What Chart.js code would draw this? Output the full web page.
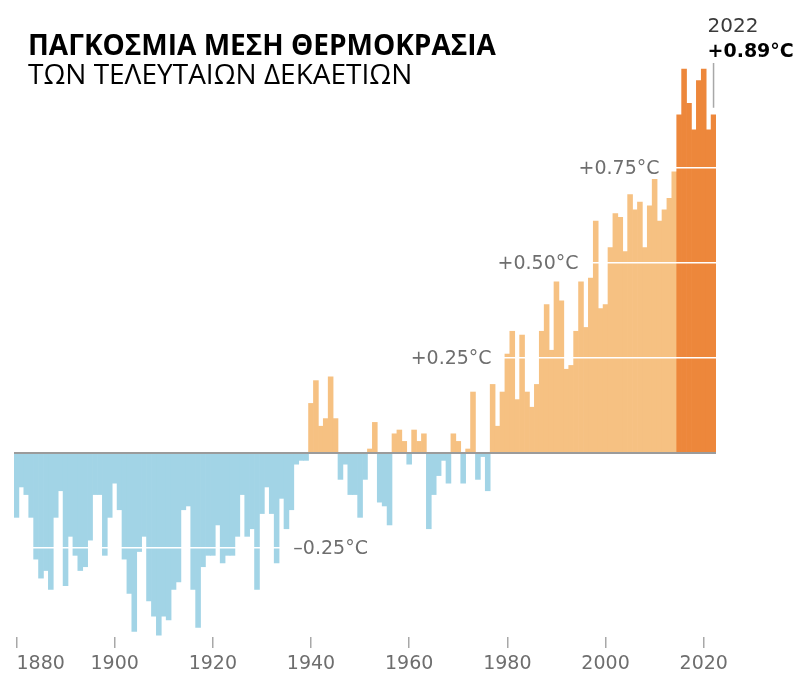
<!DOCTYPE html>
<html>
<head>
<meta charset="utf-8">
<script src="https://cdn.jsdelivr.net/npm/chart.js@4.4.0/dist/chart.umd.min.js"></script>
<style>
    html, body { margin: 0; padding: 0; background: #fff; }
    canvas { display: block; }
</style>
</head>
<body>
<canvas id="tempChart" width="798" height="677"></canvas>
<script>
// Global mean temperature anomaly, °C, one value per year from 1880 to 2022
const firstYear = 1880;
const anomalies = [
    -0.17, -0.09, -0.11, -0.17, -0.28, -0.33, -0.31, -0.36, -0.17, -0.10, // 1880s
    -0.35, -0.22, -0.27, -0.31, -0.30, -0.23, -0.11, -0.11, -0.27, -0.17, // 1890s
    -0.08, -0.15, -0.28, -0.37, -0.47, -0.26, -0.22, -0.39, -0.43, -0.48, // 1900s
    -0.43, -0.44, -0.36, -0.34, -0.15, -0.14, -0.36, -0.46, -0.30, -0.27, // 1910s
    -0.27, -0.19, -0.29, -0.27, -0.27, -0.22, -0.11, -0.22, -0.20, -0.36, // 1920s
    -0.16, -0.09, -0.16, -0.29, -0.12, -0.20, -0.15, -0.03, -0.02, -0.02, // 1930s
    0.13, 0.19, 0.07, 0.09, 0.20, 0.09, -0.07, -0.03, -0.11, -0.11,       // 1940s
    -0.17, -0.07, 0.01, 0.08, -0.13, -0.14, -0.19, 0.05, 0.06, 0.03,      // 1950s
    -0.03, 0.06, 0.03, 0.05, -0.20, -0.11, -0.06, -0.02, -0.08, 0.05,     // 1960s
    0.03, -0.08, 0.01, 0.16, -0.07, -0.01, -0.10, 0.18, 0.07, 0.16,       // 1970s
    0.26, 0.32, 0.14, 0.31, 0.16, 0.12, 0.18, 0.32, 0.39, 0.27,           // 1980s
    0.45, 0.40, 0.22, 0.23, 0.32, 0.45, 0.33, 0.46, 0.61, 0.38,           // 1990s
    0.39, 0.54, 0.63, 0.62, 0.53, 0.68, 0.64, 0.66, 0.54, 0.65,           // 2000s
    0.72, 0.61, 0.64, 0.67, 0.74, 0.89, 1.01, 0.92, 0.85, 0.98,           // 2010s
    1.01, 0.85, 0.89                                                      // 2020s
];
const years = anomalies.map((_, i) => firstYear + i);

const xTickYears = [1880, 1900, 1920, 1940, 1960, 1980, 2000, 2020];
const yGridValues = [-0.25, 0, 0.25, 0.5, 0.75];
const levelLabels = ['–0.25°C', '+0.25°C', '+0.50°C', '+0.75°C'];
const lastYearLabel = '2022';
const lastValueLabel = '+0.89°C';
const recentFrom = 2015; // darker bars

const titleText = 'ΠΑΓΚΟΣΜΙΑ ΜΕΣΗ ΘΕΡΜΟΚΡΑΣΙΑ';
const subtitleText = 'ΤΩΝ ΤΕΛΕΥΤΑΙΩΝ ΔΕΚΑΕΤΙΩΝ';

const barColors = anomalies.map((v, i) => {
    if (years[i] >= recentFrom) return '#ed873b';
    return v < 0 ? '#a2d4e6' : '#f6c182';
});

const labelFont = '19px "DejaVu Sans"';
const labelColor = '#6e6e6e';

// texts drawn on top of the chart
const annotationPlugin = {
    id: 'annotations',
    afterDraw(chart) {
        const { ctx, scales: { x, y } } = chart;
        const idx = year => year - firstYear;
        ctx.save();

        ctx.fillStyle = '#000';
        ctx.textAlign = 'left';
        ctx.textBaseline = 'alphabetic';
        ctx.font = 'bold 28px "Open Sans"';
        ctx.fillText(titleText, 28, 55);
        ctx.font = '28px "Open Sans"';
        ctx.fillText(subtitleText, 28, 84);

        // labels next to the white reference lines
        ctx.font = labelFont;
        ctx.fillStyle = labelColor;
        ctx.textBaseline = 'middle';
        ctx.textAlign = 'left';
        ctx.fillText(levelLabels[0], x.getPixelForValue(idx(1936)) + 2, y.getPixelForValue(-0.25) + 1);
        ctx.textAlign = 'right';
        ctx.fillText(levelLabels[1], x.getPixelForValue(idx(1977)) - 1, y.getPixelForValue(0.25) + 1);
        ctx.fillText(levelLabels[2], x.getPixelForValue(idx(1994.5)), y.getPixelForValue(0.5) + 1);
        ctx.fillText(levelLabels[3], x.getPixelForValue(idx(2011)), y.getPixelForValue(0.75) + 1);

        // last year callout
        const lastIdx = anomalies.length - 1;
        const lx = x.getPixelForValue(lastIdx);
        const ly = y.getPixelForValue(anomalies[lastIdx]);
        ctx.textAlign = 'left';
        ctx.textBaseline = 'alphabetic';
        ctx.fillStyle = '#3a3a3a';
        ctx.font = '20px "DejaVu Sans"';
        ctx.fillText(lastYearLabel, lx - 6, 32);
        ctx.fillStyle = '#000';
        ctx.font = 'bold 19px "DejaVu Sans"';
        ctx.fillText(lastValueLabel, lx - 6, 57);

        ctx.strokeStyle = '#a8a8a8';
        ctx.lineWidth = 1.5;
        ctx.beginPath();
        ctx.moveTo(lx, 63);
        ctx.lineTo(lx, ly - 7);
        ctx.stroke();

        ctx.restore();
    }
};

const tempConfig = {
    type: 'bar',
    data: {
        labels: years,
        datasets: [{
            data: anomalies,
            backgroundColor: barColors,
            borderWidth: 0,
            barPercentage: 1,
            categoryPercentage: 1
        }]
    },
    options: {
        responsive: false,
        animation: false,
        layout: {
            padding: { left: 14, right: 82, top: 35, bottom: 0 }
        },
        plugins: {
            legend: { display: false },
            tooltip: { enabled: false }
        },
        scales: {
            x: {
                offset: true,
                border: { display: false },
                afterFit: scale => { scale.height = 40; },
                grid: {
                    offset: false,
                    drawOnChartArea: false,
                    tickLength: 11,
                    lineWidth: 1.5,
                    color: ctx => (ctx.tick && ctx.tick.label !== '') ? '#a8a8a8' : 'rgba(0,0,0,0)'
                },
                ticks: {
                    autoSkip: false,
                    maxRotation: 0,
                    align: 'inner',
                    padding: 5,
                    color: labelColor,
                    font: { family: 'DejaVu Sans', size: 19 },
                    callback: (value, index) => xTickYears.includes(years[index]) ? String(years[index]) : ''
                }
            },
            y: {
                min: -0.485,
                max: 1.1,
                afterBuildTicks: scale => {
                    scale.ticks = yGridValues.map(v => ({ value: v }));
                },
                border: { display: false },
                ticks: { display: false },
                grid: {
                    z: 1,
                    drawTicks: false,
                    color: ctx => ctx.tick.value === 0 ? '#9b9b9b' : '#ffffff',
                    lineWidth: ctx => ctx.tick.value === 0 ? 2 : 1.5
                }
            }
        }
    },
    plugins: [annotationPlugin]
};

new Chart(document.getElementById('tempChart').getContext('2d'), tempConfig);
</script>
</body>
</html>
